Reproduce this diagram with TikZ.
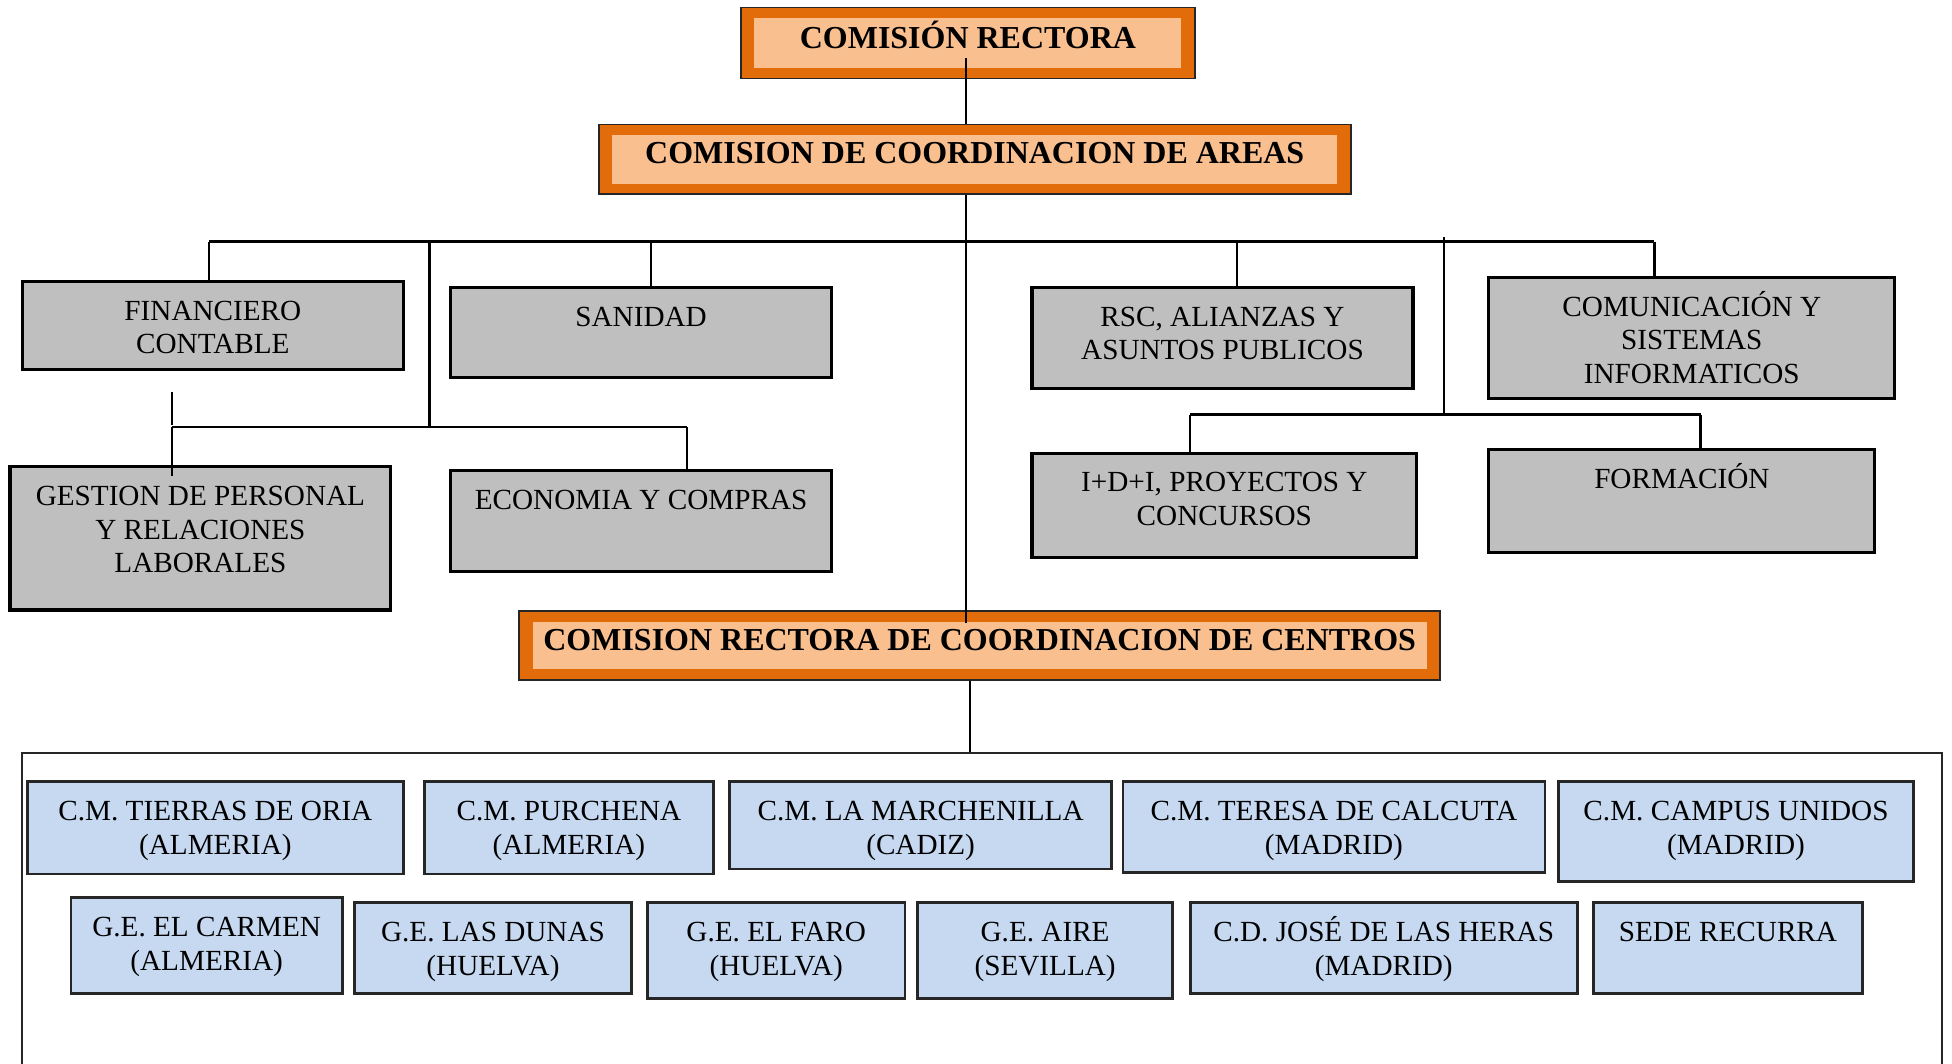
\documentclass[tikz,border=0pt]{standalone}
\usepackage{fontspec}
\setmainfont{Liberation Serif}
\usetikzlibrary{fit,calc}
\definecolor{orng}{HTML}{E36C0A}
\definecolor{lorng}{HTML}{FABF8F}
\definecolor{gryfill}{HTML}{BFBFBF}
\definecolor{blufill}{HTML}{C6D9F1}
\tikzset{
  conn/.style={line width=0.6pt, draw=black},
  obox/.style={inner sep=0pt, draw=black!85, line width=0.5pt, fill=orng},
  ibox/.style={inner sep=0pt, fill=lorng},
  gbox/.style={inner sep=0pt, draw=black, line width=0.9pt, fill=gryfill},
  bbox/.style={inner sep=0pt, draw=black!85, line width=0.8pt, fill=blufill},
  frame/.style={inner sep=0pt, draw=black!85, line width=0.6pt},
  rtxt/.style={inner sep=0pt, align=center, font=\fontsize{8.31}{9.56}\selectfont},
  btxt/.style={inner sep=0pt, font=\fontsize{9.1}{11}\selectfont\bfseries},
}
% orange title box: name, x1, y1, x2, y2, baseline y, text
\newcommand\orbox[7]{%
  \node[obox, fit={(#2,#3) (#4,#5)}] (#1) {};
  \node[ibox, fit={(#2+11,#3+8.5) (#4-11,#5-8.5)}] (#1i) {};
  \node[btxt, anchor=base] (#1t) at ({(#2+#4)/2},#6) {#7};
}
% grey box: name, x1, y1, x2, y2, text
\newcommand\grbox[6]{%
  \node[gbox, fit={(#2,#3) (#4,#5)}] (#1) {};
  \node[rtxt, anchor=north] (#1t) at ([yshift=-3.26pt]#1.north) {\rule{0pt}{8pt}#6};
}
% blue box: name, x1, y1, x2, y2, text
\newcommand\blbox[6]{%
  \node[bbox, fit={(#2,#3) (#4,#5)}] (#1) {};
  \node[rtxt, anchor=north] (#1t) at ([yshift=-3.26pt]#1.north) {\rule{0pt}{8pt}#6};
}
\begin{document}
\begin{tikzpicture}[x=0.012449cm, y=-0.012449cm]
\clip (0,0) rectangle (1568,854);
\fill[white] (0,0) rectangle (1568,854);

% title boxes
\orbox{cr}{595}{6}{960}{63}{38.8}{COMISIÓN RECTORA}
\orbox{cca}{481}{100}{1085}{156}{131.7}{COMISION DE COORDINACION DE AREAS}
\orbox{ccc}{417}{491}{1157}{546}{522.7}{COMISION RECTORA DE COORDINACION DE CENTROS}

% areas
\grbox{fin}{18}{226}{324}{297}{FINANCIERO\\CONTABLE}
\grbox{san}{362}{231}{668}{303}{SANIDAD}
\grbox{rsc}{829}{231}{1135}{312}{RSC, ALIANZAS Y\\ASUNTOS PUBLICOS}
\grbox{com}{1196}{223}{1522}{320}{COMUNICACIÓN Y\\SISTEMAS\\INFORMATICOS}
\grbox{ges}{8}{375}{314}{490}{GESTION DE PERSONAL\\Y RELACIONES\\LABORALES}
\grbox{eco}{362}{378}{668}{459}{ECONOMIA Y COMPRAS}
\grbox{idi}{829}{364}{1138}{448}{I+D+I, PROYECTOS Y\\CONCURSOS}
\grbox{for}{1196}{361}{1506}{444}{FORMACIÓN}

% centros frame
\node[frame, fit={(18,605) (1560,900)}] (cen) {};

\blbox{ori}{22}{628}{324}{702}{C.M. TIERRAS DE ORIA\\(ALMERIA)}
\blbox{pur}{341}{628}{573}{702}{C.M. PURCHENA\\(ALMERIA)}
\blbox{mar}{586}{628}{893}{698}{C.M. LA MARCHENILLA\\(CADIZ)}
\blbox{ter}{902}{628}{1241}{701}{C.M. TERESA DE CALCUTA\\(MADRID)}
\blbox{cam}{1252}{628}{1537}{708}{C.M. CAMPUS UNIDOS\\(MADRID)}
\blbox{car}{57}{721}{275}{798}{G.E. EL CARMEN\\(ALMERIA)}
\blbox{dun}{285}{725}{507}{798}{G.E. LAS DUNAS\\(HUELVA)}
\blbox{far}{520}{725}{727}{802}{G.E. EL FARO\\(HUELVA)}
\blbox{air}{737}{725}{942}{802}{G.E. AIRE\\(SEVILLA)}
\blbox{jos}{956}{725}{1267}{798}{C.D. JOSÉ DE LAS HERAS\\(MADRID)}
\blbox{sed}{1280}{725}{1496}{798}{SEDE RECURRA}

% connector coordinates
\coordinate (v1) at (776,0);
\coordinate (v2) at (779,0);
\coordinate (b1L) at (168,194);
\coordinate (b1R) at (1329,194);
\coordinate (dsan) at (523,194);
\coordinate (drsc) at (994,194);
\coordinate (tL) at (345,194);
\coordinate (b2L) at (138,343);
\coordinate (b2R) at (552,343);
\coordinate (stubT) at (138,315);
\coordinate (tR) at (1160,190);
\coordinate (b3L) at (956,333);
\coordinate (b3R) at (1366,333);

% connectors
\draw[conn] ([yshift=3pt]cri.south -| v1) -- (cca.north -| v1);
\draw[conn] (cca.south -| v1) -- ([yshift=-0.5pt]ccci.north -| v1);
\draw[conn] (b1L) -- (b1R);
\draw[conn] (b1L) -- (fin.north -| b1L);
\draw[conn] (dsan) -- (san.north -| dsan);
\draw[conn] (drsc) -- (rsc.north -| drsc);
\draw[conn] (b1R) -- (com.north -| b1R);
\draw[conn] (tL) -- (tL |- b2L);
\draw[conn] (b2L) -- (b2R);
\draw[conn] (b2R) -- (eco.north -| b2R);
\draw[conn] (b2L) -- ([yshift=-3pt]ges.north -| b2L);
\draw[conn] (stubT) -- ++(0,26);
\draw[conn] (tR) -- (tR |- b3L);
\draw[conn] (b3L) -- (b3R);
\draw[conn] (b3L) -- (idi.north -| b3L);
\draw[conn] (b3R) -- (for.north -| b3R);
\draw[conn] (ccc.south -| v2) -- (cen.north -| v2);
\end{tikzpicture}
\end{document}
